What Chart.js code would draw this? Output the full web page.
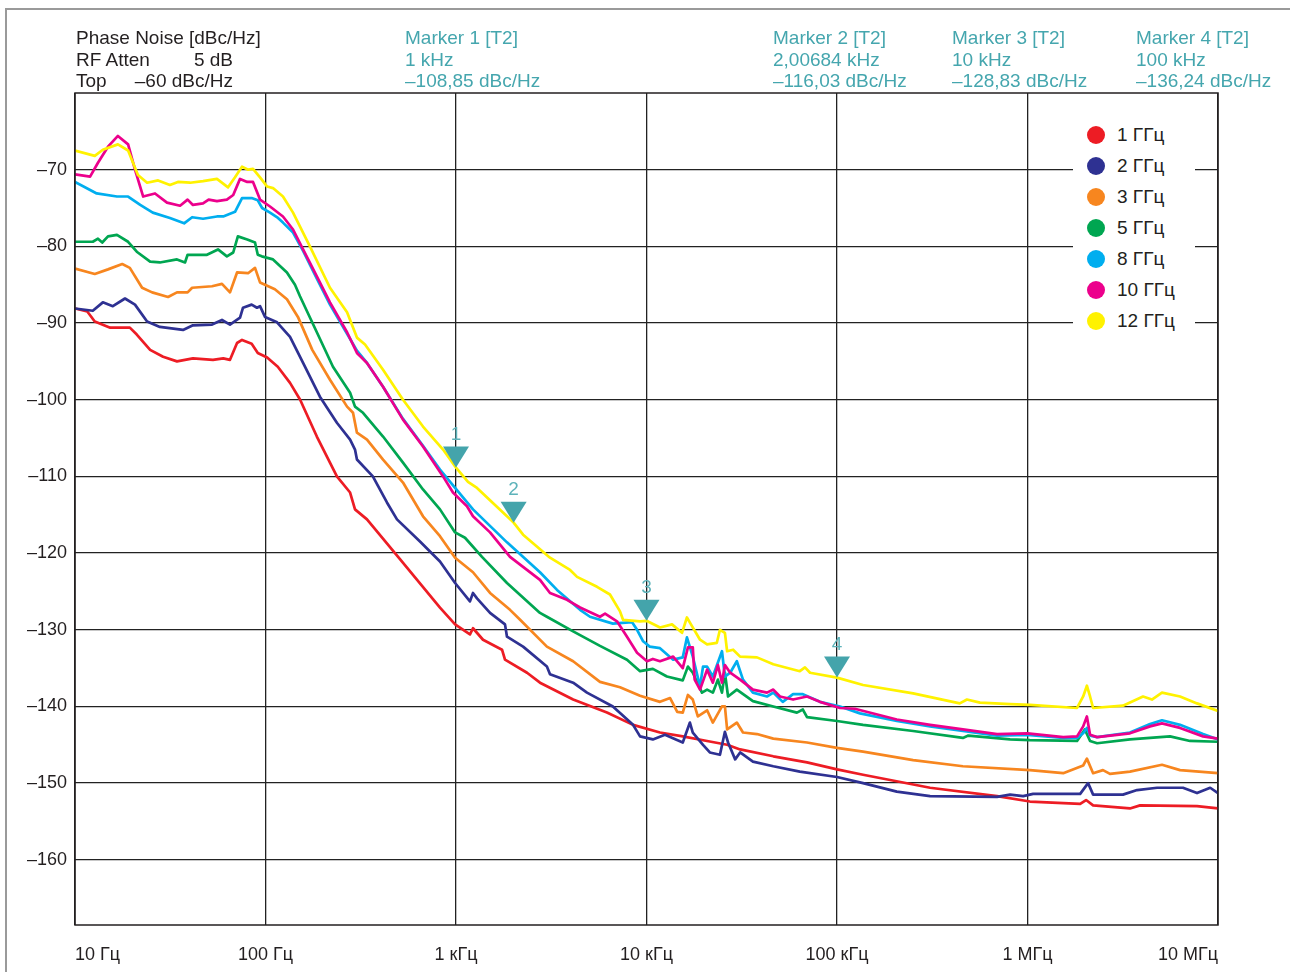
<!DOCTYPE html>
<html>
<head>
<meta charset="utf-8">
<script src="https://cdn.jsdelivr.net/npm/chart.js@4.4.1/dist/chart.umd.min.js"></script>
<style>
html,body{margin:0;padding:0;background:#fff;}
#wrap{position:relative;width:1290px;height:972px;overflow:hidden;font-family:"Liberation Sans",Arial,Helvetica,sans-serif;}
#frame{position:absolute;left:5px;top:8px;width:1400px;height:1100px;border-left:2px solid #9a9a9a;border-top:2px solid #9a9a9a;}
canvas{position:absolute;left:0;top:0;}
.hdr{position:absolute;top:27px;font-size:19px;line-height:21.5px;color:#231f20;white-space:nowrap;}
.mk{color:#45a6ae;}
.rt{position:absolute;right:0;}
#legend{position:absolute;left:1073px;top:115px;width:122px;height:225px;background:#fff;}
.lrow{position:absolute;left:0;height:22px;font-size:19px;line-height:22px;color:#231f20;white-space:nowrap;}
.dot{position:absolute;left:14px;top:2px;width:18px;height:18px;border-radius:50%;}
.ltx{position:absolute;left:44px;top:0;}
</style>
</head>
<body>
<div id="wrap">
  <div id="frame"></div>
  <canvas id="c" width="1290" height="972"></canvas>
  <div class="hdr" style="left:76px;width:157px;">
    <div>Phase Noise [dBc/Hz]</div>
    <div style="position:relative;">RF Atten<span class="rt">5 dB</span></div>
    <div style="position:relative;">Top<span class="rt">–60 dBc/Hz</span></div>
  </div>
  <div class="hdr mk" style="left:405px;"><div>Marker 1 [T2]</div><div>1 kHz</div><div>–108,85 dBc/Hz</div></div>
  <div class="hdr mk" style="left:773px;"><div>Marker 2 [T2]</div><div>2,00684 kHz</div><div>–116,03 dBc/Hz</div></div>
  <div class="hdr mk" style="left:952px;"><div>Marker 3 [T2]</div><div>10 kHz</div><div>–128,83 dBc/Hz</div></div>
  <div class="hdr mk" style="left:1136px;"><div>Marker 4 [T2]</div><div>100 kHz</div><div>–136,24 dBc/Hz</div></div>
  <div id="legend"></div>
</div>
<script>
// ---- axis ticks ----
const freqTicks = [10, 100, 1e3, 1e4, 1e5, 1e6, 1e7];
const freqTickLabels = ['10 Гц', '100 Гц', '1 кГц', '10 кГц', '100 кГц', '1 МГц', '10 МГц'];
const dbTicks = [-160, -150, -140, -130, -120, -110, -100, -90, -80, -70];
const dbMin = -168.5, dbMax = -60;

// ---- series names / colours ----
const seriesNames = ['1 ГГц', '2 ГГц', '3 ГГц', '5 ГГц', '8 ГГц', '10 ГГц', '12 ГГц'];
const seriesColors = ['#ed1c24', '#2e3192', '#f7861f', '#00a651', '#00aeef', '#ec008c', '#fff200'];

// ---- phase noise traces: [frequency Hz, dBc/Hz] ----
const pn1GHz = [[10,-88.1],[11.6,-88.5],[12.7,-89.8],[15.3,-90.6],[19.4,-90.6],[21.1,-91.5],[24.8,-93.5],[29,-94.4],[34.3,-95],[41.6,-94.6],[53,-94.8],[60,-94.6],[65.1,-94.8],[70.9,-92.6],[75.3,-92.2],[84.6,-92.7],[91.1,-93.9],[102,-94.5],[116,-95.7],[134.5,-97.8],[152,-100],[186,-104.8],[237,-110],[278,-112.1],[295,-114.3],[341,-115.6],[508,-120.8],[824,-127.1],[989,-129.3],[1184,-130.6],[1228,-129.8],[1386,-131.3],[1744,-132.6],[1808,-133.9],[2360,-135.6],[2760,-136.9],[4120,-139.1],[6200,-140.8],[8500,-142.4],[11770,-143.4],[15500,-143.9],[20800,-144.5],[26500,-145],[31000,-145.6],[46300,-146.5],[69600,-147.3],[100000,-148.2],[137000,-148.9],[308000,-150.6],[692000,-151.7],[1030000,-152.4],[1890000,-152.7],[2030000,-152.2],[2210000,-152.9],[3450000,-153.3],[3900000,-152.9],[7760000,-153],[10000000,-153.3]];
const pn2GHz = [[10,-88.1],[12.4,-88.4],[14,-87.3],[15.8,-87.8],[18.3,-86.8],[20.65,-87.6],[23.9,-89.8],[27.9,-90.5],[36.9,-90.9],[41.6,-90.3],[52.4,-90.2],[59.1,-89.6],[65.1,-90.2],[73.5,-89.3],[76.2,-88],[84.6,-87.6],[90.2,-88],[93.6,-87.8],[99.4,-89.2],[115,-89.9],[134.5,-91.8],[157.5,-95.2],[193,-99.6],[237,-103],[278,-105.2],[295,-106.5],[302,-107.8],[366,-110],[434,-113.4],[490,-115.6],[647,-118.5],[824,-121.1],[989,-123.9],[1184,-126.3],[1228,-125.2],[1289,-125.9],[1509,-127.8],[1808,-129.3],[1852,-130.9],[2250,-132.2],[3000,-134.8],[3115,-135.8],[4120,-136.9],[4870,-138.2],[6660,-140],[8500,-142.4],[9250,-143.9],[10800,-144.3],[12500,-143.7],[15500,-144.7],[16900,-142.1],[17500,-143.4],[19800,-145],[21500,-146],[24300,-146.3],[25800,-143.3],[26800,-144.7],[29200,-146.9],[31000,-146],[36200,-147.2],[46300,-147.8],[63800,-148.5],[100000,-149.2],[137000,-150],[206000,-151.1],[308000,-151.7],[692000,-151.8],[810000,-151.5],[949000,-151.7],[1070000,-151.4],[1890000,-151.4],[2080000,-150],[2210000,-151.5],[3170000,-151.5],[3760000,-150.9],[4790000,-150.6],[6550000,-150.6],[7760000,-151.3],[9100000,-150.6],[10000000,-151.3]];
const pn3GHz = [[10,-82.9],[12.7,-83.6],[14.9,-83],[17.7,-82.3],[19.4,-82.8],[22.5,-85.4],[25.4,-86],[30.8,-86.6],[34.3,-86],[39,-86],[41.2,-85.4],[52.4,-85.2],[59.1,-84.9],[65.1,-86],[70.9,-83.4],[81,-83.5],[88.1,-82.8],[93.6,-84.7],[112,-85.6],[129.6,-86.9],[148,-89.2],[176,-93.5],[218,-97.4],[268,-100.9],[288,-101.7],[302,-104.3],[341,-105.2],[414,-107.8],[527,-110.8],[671,-115.2],[824,-117.8],[989,-120.6],[1228,-122.5],[1509,-125.2],[1921,-127.4],[2170,-128.7],[3000,-132.2],[4120,-134.1],[5700,-136.8],[7260,-137.5],[9250,-138.6],[11770,-139.4],[13300,-138.9],[14500,-140.7],[15500,-140.8],[16500,-138.5],[17500,-139.1],[18600,-141.3],[20800,-140.5],[22300,-142.1],[24900,-140],[25800,-140],[26500,-143],[29800,-142.1],[32100,-143.4],[38000,-143.6],[46300,-144.2],[69600,-144.7],[100000,-145.4],[137000,-145.9],[251000,-147],[458000,-147.8],[1030000,-148.3],[1540000,-148.7],[1960000,-147.7],[2050000,-146.8],[2210000,-148.7],[2490000,-148.3],[2710000,-148.8],[3450000,-148.5],[5080000,-147.6],[6320000,-148.3],[10000000,-148.7]];
const pn5GHz = [[10,-79.4],[12.4,-79.4],[13.2,-79],[13.9,-79.5],[14.9,-78.7],[16.6,-78.5],[19,-79.4],[21.1,-80.7],[24.8,-82],[27.9,-82.1],[34.3,-81.7],[37.8,-82.1],[39,-81.1],[43.7,-81.1],[49.3,-81.1],[56.3,-80.4],[62.7,-81.3],[67.7,-80.8],[71.6,-78.7],[80.2,-79.1],[88.1,-79.5],[91.1,-81.1],[95.6,-81.3],[109.5,-81.7],[129.6,-83.4],[142.8,-85],[151.7,-86.5],[186,-91.2],[226,-95.7],[278,-99.1],[295,-100.9],[325,-101.7],[414,-104.8],[527,-108.2],[671,-111.7],[824,-114.3],[989,-117.3],[1115,-118],[1369,-120.5],[1852,-123.9],[2760,-127.8],[3000,-128.3],[4120,-130.2],[5700,-132.1],[7900,-133.9],[9250,-135.4],[10800,-135.1],[12800,-136.1],[15500,-136.6],[16500,-134.8],[17500,-135.6],[19550,-138.2],[20800,-137.8],[22300,-138.2],[23700,-136.5],[24900,-138.2],[25800,-135.6],[26800,-138.7],[29800,-137.8],[36200,-139.3],[46300,-140],[61600,-140.8],[66200,-140.4],[69600,-141.4],[100000,-141.9],[137000,-142.4],[251000,-143.2],[458000,-144.1],[489000,-143.8],[810000,-144.3],[1030000,-144.4],[1820000,-144.5],[2000000,-143],[2130000,-144.5],[2320000,-144.8],[3450000,-144.3],[5600000,-143.9],[7130000,-144.5],[10000000,-144.6]];
const pn8GHz = [[10,-71.6],[13,-73.1],[16.6,-73.5],[19,-73.5],[22,-74.6],[25.6,-75.6],[31.5,-76.3],[37.4,-77],[41.2,-76.2],[47,-76.4],[55.6,-76.1],[60,-76.1],[69.2,-75.5],[75.3,-73.7],[84.6,-73.7],[91.1,-74],[96,-75],[105.6,-75.6],[116.3,-76.3],[123.5,-76.9],[139.5,-78.2],[157.5,-80.6],[186,-84.2],[218,-87.6],[268,-91.4],[302,-93.6],[341,-95.2],[414,-98.3],[527,-102.5],[671,-106],[824,-109.1],[989,-111.5],[1228,-114.3],[1852,-118.6],[2760,-122.5],[3390,-124.8],[4480,-127.4],[5050,-128.3],[6660,-129.2],[8390,-129],[8920,-130],[9600,-131.5],[10400,-132.2],[11770,-132.4],[13800,-133.9],[15500,-133.6],[16300,-131],[17500,-133.5],[19100,-137.4],[19800,-134.8],[20800,-134.8],[22300,-136.1],[24900,-132.8],[25800,-136.1],[27500,-135.6],[29800,-134.1],[32100,-136.5],[36200,-138.2],[42900,-138.7],[46300,-138.2],[51900,-139.4],[58800,-138.4],[66200,-138.4],[81400,-139.4],[103700,-140],[132000,-140.9],[206000,-141.9],[308000,-142.6],[458000,-143.2],[692000,-143.8],[1000000,-143.7],[1540000,-144.1],[1820000,-144.1],[1960000,-143.5],[2050000,-142.8],[2130000,-143.8],[2320000,-144],[3450000,-143.4],[4400000,-142.3],[5080000,-141.8],[6320000,-142.4],[8350000,-143.6],[10000000,-144.3]];
const pn10GHz = [[10,-70.6],[12,-70.9],[13.2,-69.1],[14.9,-67],[16.8,-65.6],[19,-66.7],[20.65,-70],[22.8,-73.5],[26.3,-73.1],[30.4,-74.3],[35.6,-74.7],[39,-73.9],[41.6,-74.6],[47,-74.4],[50.3,-73.9],[55.6,-74.1],[62.7,-73.9],[67.7,-73.3],[73.5,-71.2],[80.2,-71.6],[86,-71.6],[93.6,-73.9],[105.6,-74.8],[123.5,-76.1],[139.5,-77.8],[157.5,-80.4],[186,-83.9],[218,-87.3],[268,-91.2],[302,-93.9],[341,-95.2],[414,-98.3],[527,-102.6],[671,-106.1],[855,-110],[964,-112.1],[1142,-113.9],[1228,-115.2],[1509,-117.3],[1921,-120.5],[2760,-123.5],[3115,-125.2],[3825,-126.1],[4480,-127.1],[5700,-128.3],[6060,-127.9],[7000,-128.9],[7900,-130.9],[8920,-133],[10060,-134.1],[10800,-133.8],[11770,-134.1],[13800,-133.5],[15500,-135],[16500,-132.3],[17500,-132.3],[17900,-136.5],[19100,-137.8],[20800,-135.2],[22300,-136.9],[23700,-134.6],[24900,-136.9],[25800,-134.6],[27500,-135.6],[31000,-136.5],[36200,-137.8],[42900,-138.2],[46300,-137.8],[50200,-138.7],[58800,-139.1],[69600,-138.7],[81400,-139.4],[103700,-140.2],[124000,-140.3],[206000,-141.7],[308000,-142.4],[458000,-143],[692000,-143.6],[1000000,-143.5],[1540000,-144],[1820000,-143.9],[1960000,-142.6],[2050000,-141.3],[2130000,-143.7],[2320000,-144],[3450000,-143.5],[4400000,-142.6],[5080000,-142.2],[6320000,-142.8],[8350000,-143.9],[10000000,-144.2]];
const pn12GHz = [[10,-67.5],[12.7,-68.2],[14,-67.4],[16.8,-66.7],[19,-67.5],[21.4,-70.7],[23.9,-71.7],[27.3,-71.4],[31.5,-72],[34.7,-71.6],[40.2,-71.7],[47,-71.5],[55.6,-71.2],[63.6,-72.3],[69.2,-71],[75.3,-69.6],[81,-70],[86,-69.9],[93.6,-71],[102,-72.2],[109.5,-72.4],[123.5,-73.5],[139.5,-75.6],[171,-80],[218,-85.4],[268,-88.6],[302,-91.9],[333,-92.8],[414,-96.1],[527,-100],[671,-103.5],[855,-106.5],[1000,-108.85],[1156,-110.7],[1289,-111.5],[1852,-115.2],[2006.84,-116.03],[2250,-117.6],[3115,-120.6],[3970,-122.2],[4320,-123.1],[5500,-124.4],[6430,-125.4],[7260,-127.6],[7530,-128.7],[9250,-128.9],[10000,-128.83],[11770,-129.7],[13610,-129.3],[15360,-130.4],[16300,-128.4],[17300,-129.5],[19100,-131.3],[20800,-131.9],[23400,-131.7],[24300,-130],[25800,-130.4],[26500,-132.8],[28500,-132.6],[31000,-133.5],[38000,-133.6],[46300,-134.5],[63800,-135.4],[67900,-134.9],[72200,-135.6],[100000,-136.24],[137000,-137.2],[251000,-138.3],[441000,-139.6],[481000,-139.1],[563000,-139.5],[810000,-139.7],[1030000,-139.8],[1820000,-140.2],[1960000,-138.7],[2050000,-137.3],[2130000,-138.7],[2210000,-140.2],[3170000,-139.9],[4040000,-138.7],[4500000,-139.1],[5080000,-138.2],[6320000,-138.7],[7760000,-139.6],[10000000,-140.6]];
const seriesData = [pn1GHz, pn2GHz, pn3GHz, pn5GHz, pn8GHz, pn10GHz, pn12GHz];

// ---- markers (on the 12 GHz trace) ----
const markerFreqs = [1000, 2006.84, 10000, 100000];
const markerValues = [-108.85, -116.03, -128.83, -136.24];
const markerNames = ['1', '2', '3', '4'];

// ---- legend (HTML) ----
const legendEl = document.getElementById('legend');
seriesNames.forEach((name, i) => {
  const row = document.createElement('div');
  row.className = 'lrow';
  row.style.top = (135 - 115 - 11 + i * 31) + 'px';
  row.innerHTML = '<span class="dot" style="background:' + seriesColors[i] + '"></span><span class="ltx">' + name + '</span>';
  legendEl.appendChild(row);
});

const FONT = '"Liberation Sans", Arial, Helvetica, sans-serif';

const overlay = {
  id: 'overlay',
  afterDatasetsDraw(chart) {
    const {ctx, chartArea: a, scales: {x, y}} = chart;
    ctx.save();
    ctx.strokeStyle = '#231f20';
    ctx.lineWidth = 1.5;
    ctx.strokeRect(a.left, a.top, a.right - a.left, a.bottom - a.top);
    markerFreqs.forEach((f, i) => {
      const px = x.getPixelForValue(f);
      const py = y.getPixelForValue(markerValues[i]);
      ctx.fillStyle = '#44a4ab';
      ctx.beginPath();
      ctx.moveTo(px, py);
      ctx.lineTo(px - 13, py - 21);
      ctx.lineTo(px + 13, py - 21);
      ctx.closePath();
      ctx.fill();
      ctx.fillStyle = '#5db3ba';
      ctx.font = '19px ' + FONT;
      ctx.textAlign = 'center';
      ctx.textBaseline = 'middle';
      ctx.fillText(markerNames[i], px, py - 33);
    });
    ctx.restore();
  }
};

const datasets = seriesData.map((pts, i) => ({
  label: seriesNames[i],
  data: pts.map(p => ({x: p[0], y: p[1]})),
  borderColor: seriesColors[i],
  backgroundColor: seriesColors[i],
  borderWidth: 2.7,
  pointRadius: 0,
  tension: 0,
  fill: false,
  borderJoinStyle: 'round',
  order: seriesData.length - i
}));

new Chart(document.getElementById('c'), {
  type: 'line',
  data: {datasets},
  options: {
    responsive: false,
    animation: false,
    devicePixelRatio: 1,
    layout: {padding: {top: 93, right: 72, left: 0, bottom: 0}},
    plugins: {legend: {display: false}, tooltip: {enabled: false}},
    scales: {
      x: {
        type: 'logarithmic',
        min: 10, max: 1e7,
        afterBuildTicks: s => { s.ticks = freqTicks.map(v => ({value: v})); },
        afterFit: s => { s.height = 47; },
        grid: {color: '#222222', lineWidth: 1.3, drawTicks: false},
        border: {display: false},
        ticks: {
          autoSkip: false, maxRotation: 0, minRotation: 0, align: 'inner',
          padding: 19, color: '#231f20', font: {family: FONT, size: 18},
          callback: (v, i) => freqTickLabels[i]
        }
      },
      y: {
        type: 'linear',
        min: dbMin, max: dbMax,
        afterBuildTicks: s => { s.ticks = dbTicks.map(v => ({value: v})); },
        afterFit: s => { s.width = 75; },
        grid: {color: '#222222', lineWidth: 1.3, drawTicks: false},
        border: {display: false},
        ticks: {
          padding: 8, color: '#231f20', font: {family: FONT, size: 18},
          callback: v => '–' + Math.abs(v)
        }
      }
    }
  },
  plugins: [overlay]
});
</script>
</body>
</html>
